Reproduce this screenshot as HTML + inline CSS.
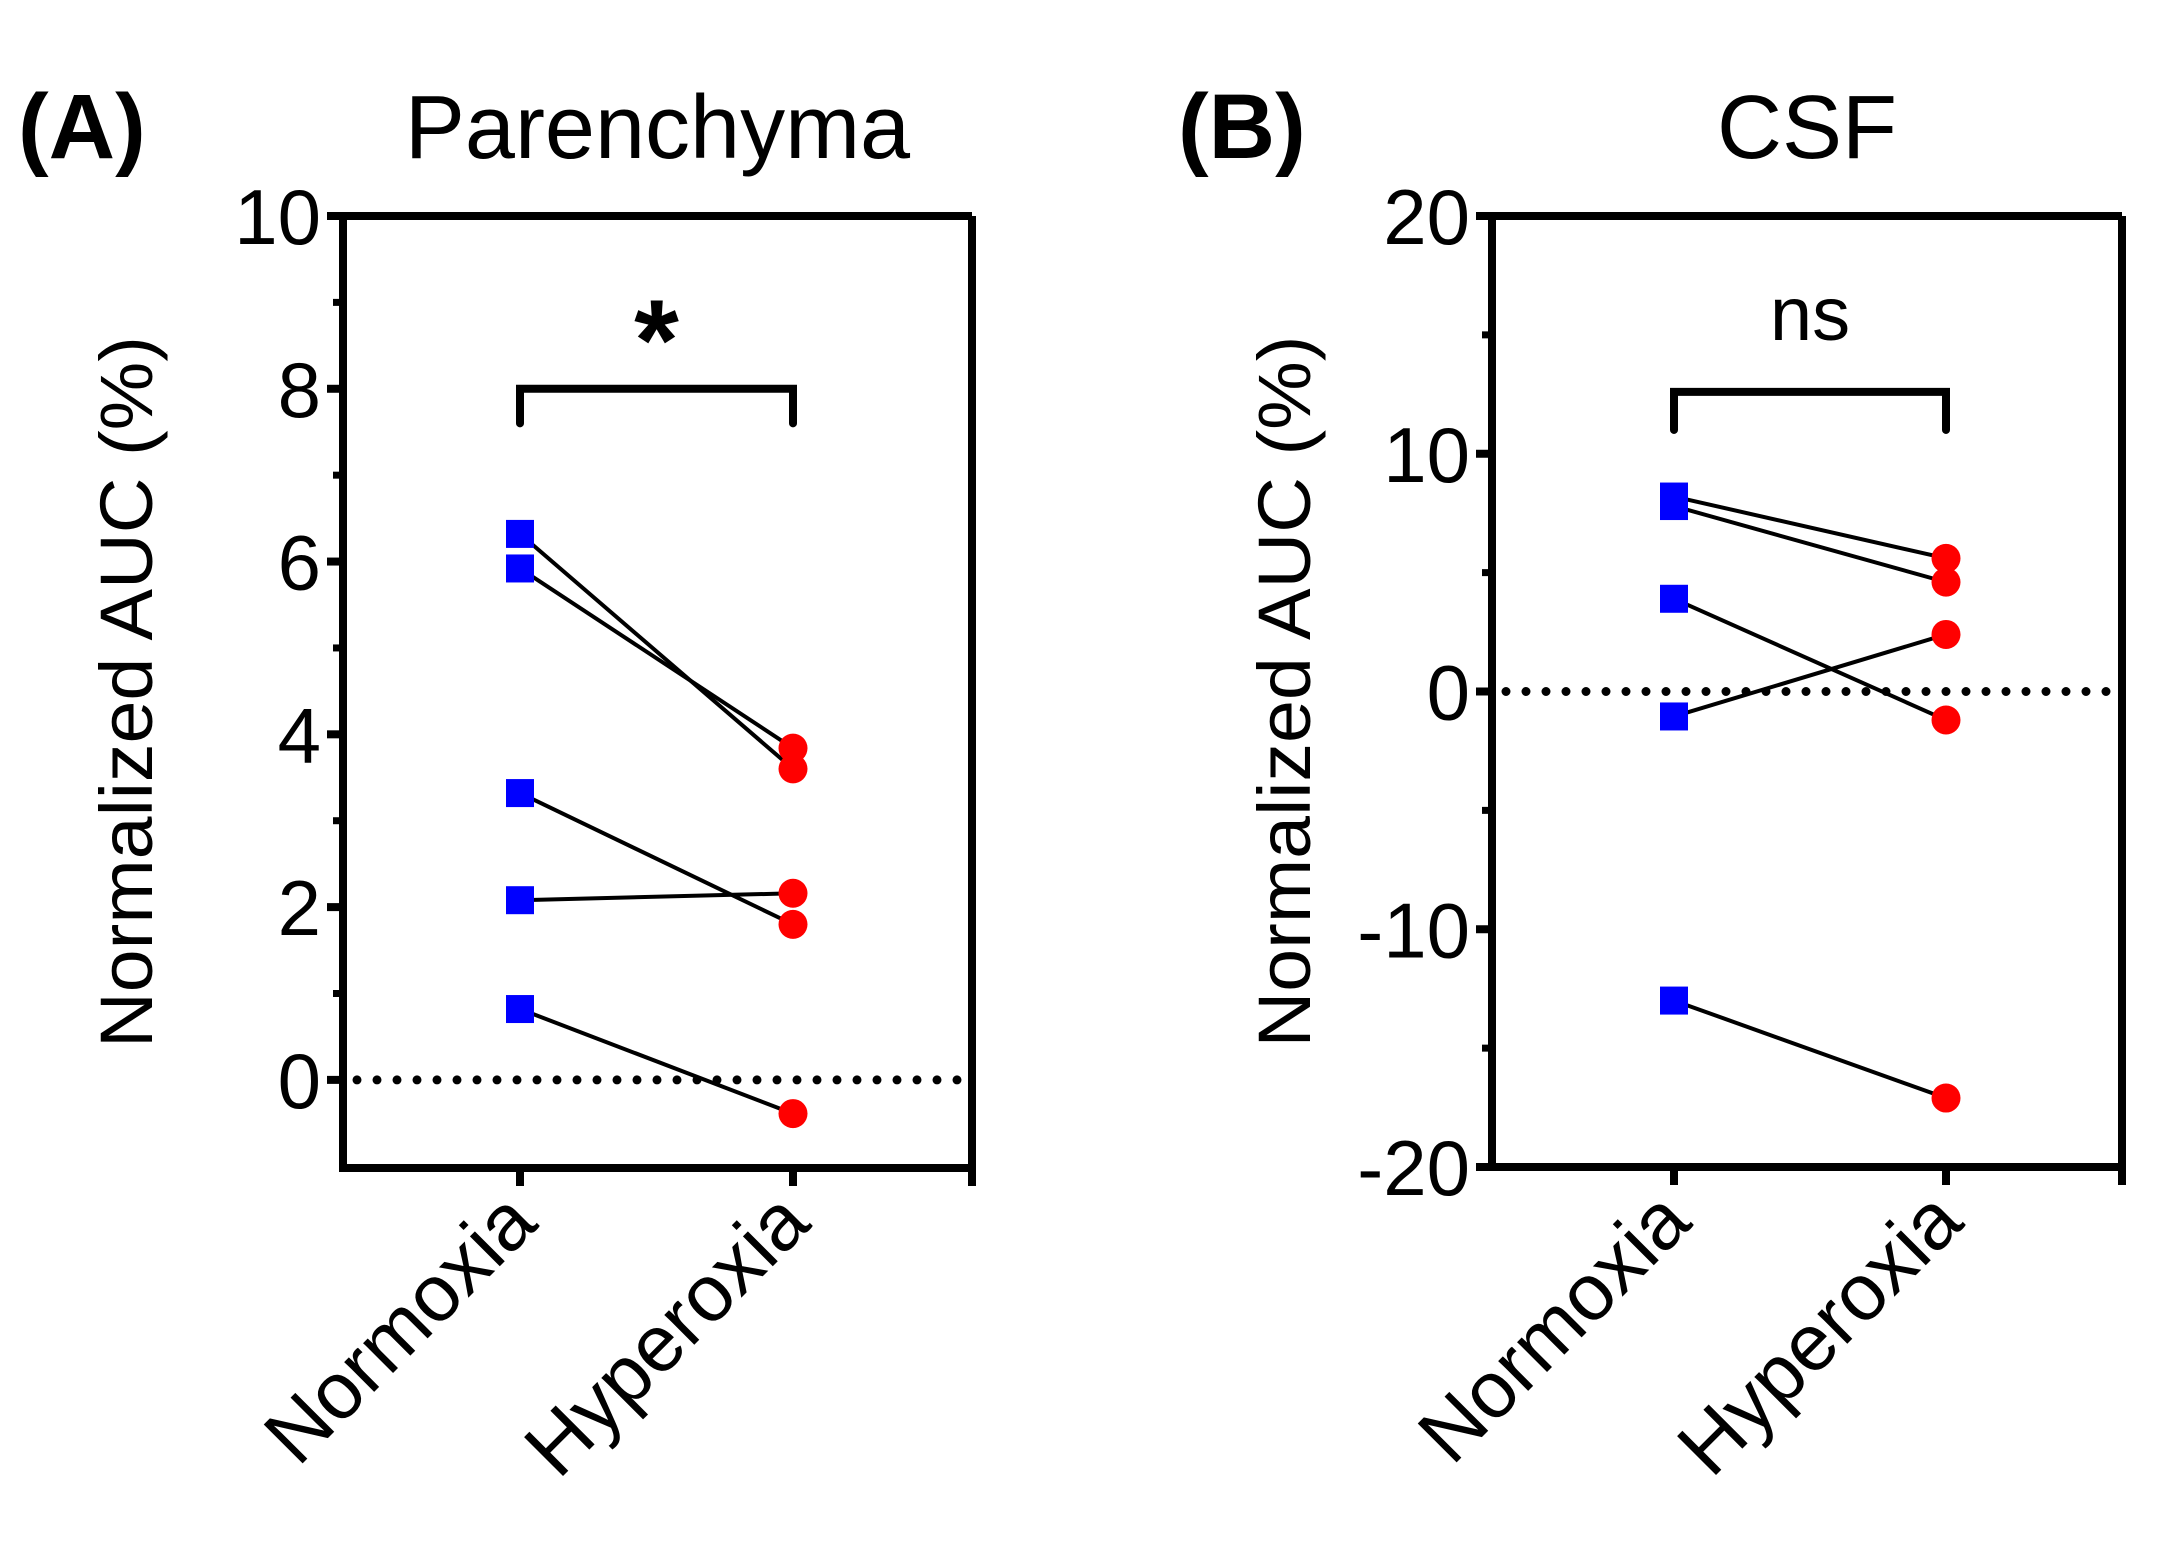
<!DOCTYPE html>
<html><head><meta charset="utf-8"><style>
html,body{margin:0;padding:0;background:#fff;}
svg{display:block;font-family:"Liberation Sans",Arial,sans-serif;}
</style></head><body>
<svg id="fig" width="2175" height="1555" viewBox="0 0 2175 1555" xmlns="http://www.w3.org/2000/svg"></svg>
<script>
const categories = ["Normoxia","Hyperoxia"];
// Panel A (Parenchyma)
const aNormoxia = [6.32, 5.92, 3.32, 2.08, 0.82];
const aHyperoxia = [3.60, 3.84, 1.80, 2.16, -0.39];
const aTicks = [0,2,4,6,8,10];
const aMinor = [1,3,5,7,9];
// Panel B (CSF)
const bNormoxia = [8.2, 7.8, 3.9, -1.05, -13.0];
const bHyperoxia = [5.6, 4.6, -1.2, 2.4, -17.1];
const bTicks = [-20,-10,0,10,20];
const bMinor = [-15,-5,5,15];

const NS="http://www.w3.org/2000/svg";
const svg=document.getElementById('fig');
function mk(tag,attrs,parent){const e=document.createElementNS(NS,tag);for(const k in attrs)e.setAttribute(k,attrs[k]);(parent||svg).appendChild(e);return e;}

function panel(o){
  const g=mk('g',{});
  
  
  const y=v=>o.top+(o.ymax-v)/(o.ymax-o.ymin)*(o.bottom-o.top);
  const x=i=>o.cx[i];
  const L=mk('text',{x:o.letterX,y:158,'font-size':92,'font-weight':'bold'},g);L.textContent=o.letter;
  
  
  const T=mk('text',{x:(o.left+o.right)/2,y:158,'font-size':90,'text-anchor':'middle'},g);T.textContent=o.title;
  
  
  const yt=mk('text',{x:0,y:0,'font-size':74,'text-anchor':'middle',transform:`translate(${o.yTitleX},${(o.top+o.bottom)/2}) rotate(-90)`,textLength:712,lengthAdjust:'spacingAndGlyphs'},g);
  yt.textContent='Normalized AUC (%)';
  
  
  const zl=mk('line',{x1:o.left+14,x2:o.right,y1:y(0),y2:y(0),stroke:'#000','stroke-width':9,'stroke-linecap':'round','stroke-dasharray':'0 20'},g);
  
  
  const fr=mk('path',{d:`M${o.right},${o.top} H${o.left} V${o.bottom} H${o.right} V${o.top}`,fill:'none',stroke:'#000','stroke-width':8},g);
  
  
  o.ticks.forEach(v=>{
    const t=mk('line',{x1:o.left-16,x2:o.left,y1:y(v),y2:y(v),stroke:'#000','stroke-width':8},g);
    
    
    const tl=mk('text',{x:o.left-22,y:y(v)+28,'font-size':78,'text-anchor':'end'},g);tl.textContent=v;
    
    
  });
  o.minor.forEach(v=>{
    const t=mk('line',{x1:o.left-10,x2:o.left,y1:y(v),y2:y(v),stroke:'#000','stroke-width':7},g);
    
    
  });
  [x(0),x(1),o.right].forEach(px=>{
    const t=mk('line',{x1:px,x2:px,y1:o.bottom,y2:o.bottom+18,stroke:'#000','stroke-width':8},g);
    
    
  });
  categories.forEach((c,i)=>{
    const t=mk('text',{x:0,y:0,'font-size':80,'text-anchor':'end',transform:`translate(${x(i)+20},${o.bottom+58}) rotate(-45)`},g);
    t.textContent=c;
    
    
  });
  const by=y(o.bracket[0]), be=y(o.bracket[1]);
  const br=mk('path',{d:`M${x(0)},${be} V${by} H${x(1)} V${be}`,fill:'none',stroke:'#000','stroke-width':8,'stroke-linecap':'round'},g);
  
  
  const st=mk('text',{x:(x(0)+x(1))/2,y:o.sigY,'font-size':o.sigSize,'font-weight':o.sigWeight,'text-anchor':'middle'},g);
  st.textContent=o.sig;
  
  
  o.n.forEach((v,i)=>{
    const l=mk('line',{x1:x(0),y1:y(v),x2:x(1),y2:y(o.h[i]),stroke:'#000','stroke-width':4},g);
    
    
  });
  o.n.forEach(v=>{
    const r=mk('rect',{x:x(0)-14,y:y(v)-14,width:28,height:28,fill:'#0000ff'},g);
    
    
  });
  o.h.forEach(v=>{
    const c=mk('circle',{cx:x(1),cy:y(v),r:14.5,fill:'#ff0000'},g);
    
    
  });
}
panel({key:'parenchyma',letter:'(A)',letterX:18,title:'Parenchyma',left:343,right:972,top:216,bottom:1168,ymin:-1.02,ymax:10,
  cx:[520,793],ticks:aTicks,minor:aMinor,n:aNormoxia,h:aHyperoxia,bracket:[8,7.6],sig:'*',sigY:380,sigSize:115,sigWeight:'bold',yTitleX:152});
panel({key:'csf',letter:'(B)',letterX:1178,title:'CSF',left:1492,right:2122,top:216,bottom:1167,ymin:-20,ymax:20,
  cx:[1674,1946],ticks:bTicks,minor:bMinor,n:bNormoxia,h:bHyperoxia,bracket:[12.6,11],sig:'ns',sigY:340,sigSize:76,sigWeight:'normal',yTitleX:1310});
</script>
</body></html>
